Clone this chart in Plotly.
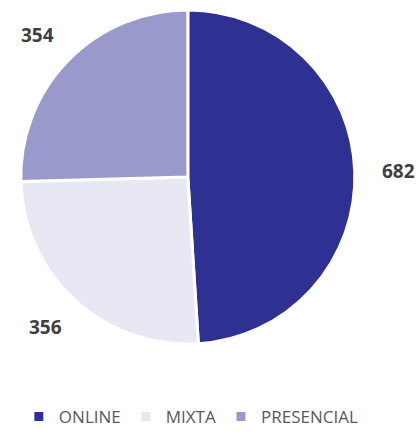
import numpy as np
import plotly.graph_objects as go

labels = ["ONLINE", "MIXTA", "PRESENCIAL"]
values = [682, 356, 354]
colors = ["#2E3192", "#E8E8F4", "#9999CC"]

W, H = 416, 435
dom_x = [0.05, 0.853]
dom_y = [0.209, 0.977]

fig = go.Figure()
fig.add_pie(labels=labels, values=values, sort=False, direction="clockwise",
            rotation=0, textinfo="none", hoverinfo="label+value",
            marker=dict(colors=colors, line=dict(color="white", width=3)),
            domain=dict(x=dom_x, y=dom_y))

# value labels outside each slice, at its mid angle
cx = (dom_x[0] + dom_x[1]) / 2 * W
cy = (dom_y[0] + dom_y[1]) / 2 * H
r = min((dom_x[1] - dom_x[0]) * W, (dom_y[1] - dom_y[0]) * H) / 2
vals = np.array(values, dtype=float)
mids = (np.cumsum(vals) - vals / 2) / vals.sum() * 2 * np.pi
for v, a in zip(values, mids):
    px = cx + 1.26 * r * np.sin(a)
    py = cy + 1.22 * r * np.cos(a)
    fig.add_annotation(x=px / W, y=py / H, xref="paper", yref="paper",
                       xanchor="center", yanchor="middle",
                       text="<b>%d</b>" % v, showarrow=False,
                       font=dict(family="Open Sans", size=19, color="#404040"))

fig.update_layout(width=W, height=H,
                  margin=dict(l=0, r=0, t=0, b=0),
                  paper_bgcolor="white",
                  showlegend=True,
                  legend=dict(orientation="h", x=0.46, xanchor="center",
                              y=0.0, yanchor="bottom",
                              font=dict(family="Open Sans", size=17, color="#595959"),
                              itemwidth=30))

fig.write_html("out.html", config={"displayModeBar": False},
               post_script="document.body.style.margin='0';")
